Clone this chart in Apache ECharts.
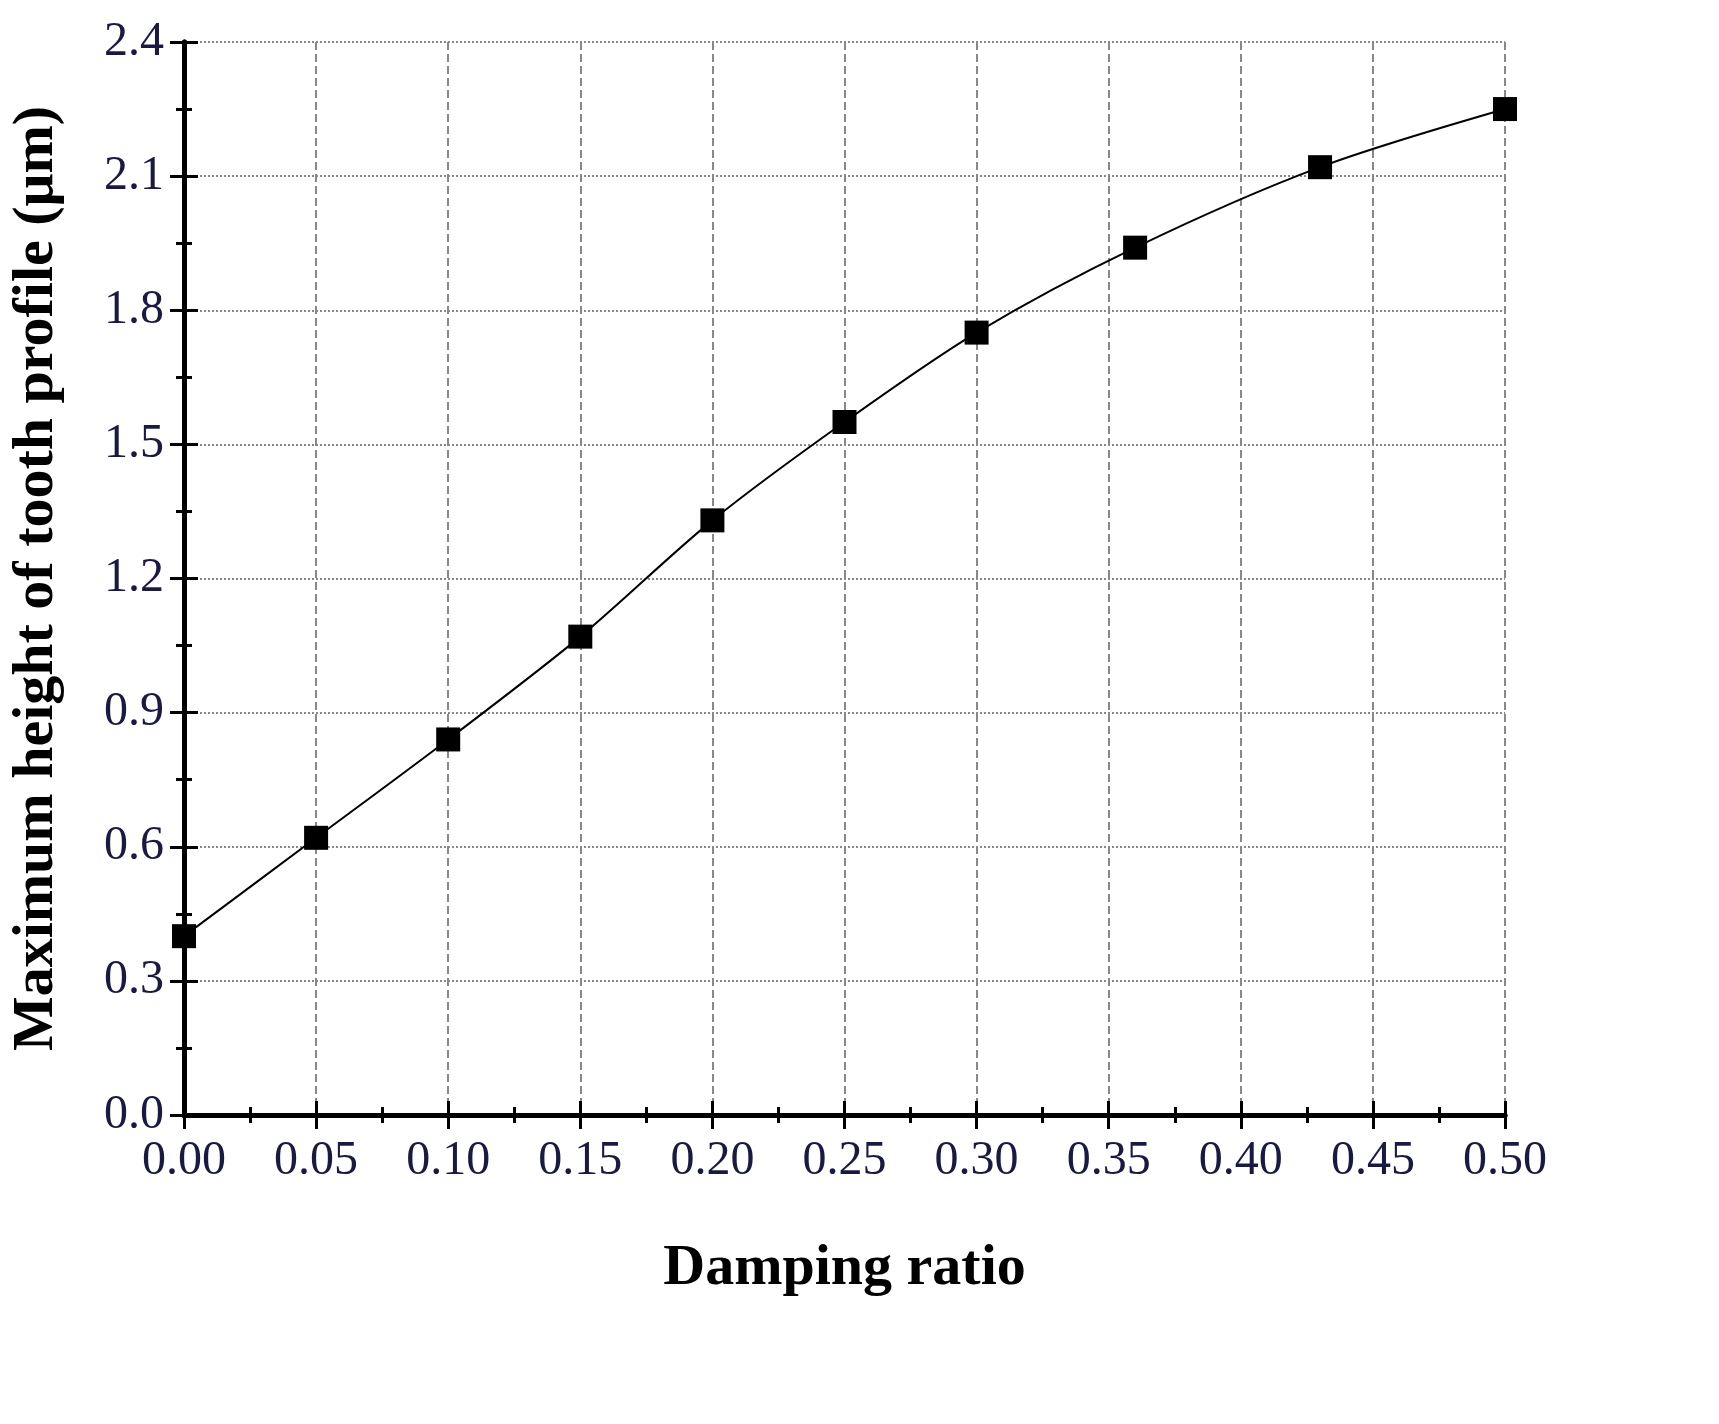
<!DOCTYPE html>
<html>
<head>
<meta charset="UTF-8">
<script src="https://cdn.jsdelivr.net/npm/echarts@6/dist/echarts.min.js"></script>
<style>body{margin:0;background:#fff}</style>
</head>
<body>
<div id="chart" style="width:1719px;height:1424px;"></div>
<script>
var damping = [0, 0.05, 0.10, 0.15, 0.20, 0.25, 0.30, 0.36, 0.43, 0.50];
var height = [0.40, 0.62, 0.84, 1.07, 1.33, 1.55, 1.75, 1.94, 2.12, 2.25];
var font = '"Liberation Serif", "DejaVu Serif", serif';

var tickStyle = {inside: true, length: 14, lineStyle: {color: '#000', width: 3}};
var minorStyle = {show: true, splitNumber: 2, length: 8, lineStyle: {color: '#000', width: 3}};
var lineStyle = {lineStyle: {color: '#000', width: 5}};

var chart = echarts.init(document.getElementById('chart'));
chart.setOption({
    animation: false,
    grid: {left: 173, right: 214, top: 42, bottom: 309},
    xAxis: [{
        type: 'value', min: 0, max: 0.5, interval: 0.05,
        name: 'Damping ratio', nameLocation: 'middle', nameGap: 125,
        nameTextStyle: {fontFamily: font, fontSize: 58, fontWeight: 'bold', color: '#000'},
        axisLine: lineStyle, axisTick: tickStyle, minorTick: minorStyle,
        axisLabel: {fontFamily: font, fontSize: 48, color: '#1a1a40', margin: 22,
            formatter: function (v) { return v.toFixed(2); }},
        splitLine: {show: true, lineStyle: {color: '#888', type: 'dashed', width: 2}}
    }, {
        type: 'value', min: 0, max: 0.5, interval: 0.05, position: 'top',
        axisLine: lineStyle, axisTick: tickStyle, minorTick: minorStyle,
        axisLabel: {show: false}, splitLine: {show: false}
    }],
    yAxis: [{
        type: 'value', min: 0, max: 2.4, interval: 0.3,
        name: 'Maximum height of tooth profile (μm)', nameLocation: 'middle', nameGap: 118,
        nameTextStyle: {fontFamily: font, fontSize: 58, fontWeight: 'bold', color: '#000'},
        axisLine: lineStyle, axisTick: tickStyle, minorTick: minorStyle,
        axisLabel: {fontFamily: font, fontSize: 48, color: '#1a1a40', margin: 20,
            formatter: function (v) { return v.toFixed(1); }},
        splitLine: {show: true, lineStyle: {color: '#888', type: 'dotted', width: 2}}
    }, {
        type: 'value', min: 0, max: 2.4, interval: 0.3, position: 'right',
        axisLine: lineStyle, axisTick: tickStyle, minorTick: minorStyle,
        axisLabel: {show: false}, splitLine: {show: false}
    }],
    series: [{
        type: 'line',
        data: damping.map(function (d, i) { return [d, height[i]]; }),
        smooth: 0.3,
        symbol: 'rect', symbolSize: 24,
        itemStyle: {color: '#000'},
        lineStyle: {color: '#000', width: 2}
    }]
});
</script>
</body>
</html>
